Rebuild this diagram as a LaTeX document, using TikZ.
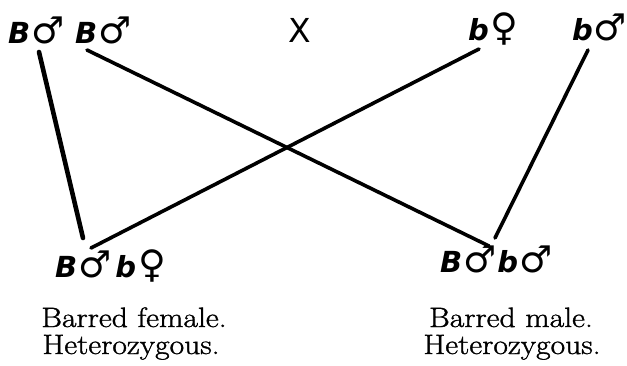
\documentclass[tikz,border=0pt]{standalone}
\usepackage{fontspec}
\newfontfamily\symfont{DejaVu Sans}
\newfontfamily\letfont{DejaVu Sans}
\newfontfamily\capfont[FakeStretch=1.13,FakeBold=1.2]{Latin Modern Roman}
\begin{document}
\begin{tikzpicture}[x={(1pt,0)},y={(0,-1pt)},
  geno/.style={inner sep=0pt,anchor=base west,font=\fontsize{29}{29}\selectfont},
  captext/.style={inner sep=0pt,anchor=base,font=\capfont\fontsize{28}{28}\selectfont},
  link/.style={line width=3.6pt,line cap=round}]
\useasboundingbox (0,0) rectangle (627,365);
\newcommand{\gB}{{\letfont\bfseries\itshape B}}
\newcommand{\gb}{{\letfont\bfseries\itshape b}}
\newcommand{\ma}{{\symfont\fontsize{37}{37}\selectfont ♂}}
\newcommand{\fe}{{\symfont\fontsize{38}{38}\selectfont ♀}}
\node[geno] (p1) at (8,43) {\gB\kern1pt\ma};
\node[geno] (p2) at (75,43) {\gB\kern1pt\ma};
\node[inner sep=0pt,anchor=base,font=\fontsize{33}{33}\selectfont\symfont] (x) at (300,42) {X};
\node[geno] (p3) at (468,40) {\gb\kern2pt\fe};
\node[geno] (p4) at (572,40) {\gb\kern1pt\ma};
\node[geno] (c1) at (55,277) {\gB\kern1pt\ma\kern4pt\gb\kern2pt\fe};
\node[geno] (c2) at (440,272) {\gB\kern1pt\ma\kern1pt\gb\kern1pt\ma};
\node[captext] (t1) at (134,327) {Barred female.};
\node[captext] (t1b) at (131,354) {Heterozygous.};
\node[captext] (t2) at (511,327) {Barred male.};
\node[captext] (t2b) at (512,354) {Heterozygous.};
\coordinate (a1) at (39,52);
\coordinate (a2) at (83,238);
\coordinate (b1) at (87,50);
\coordinate (b2) at (489,246);
\coordinate (d1) at (479,49);
\coordinate (d2) at (91,248);
\coordinate (e1) at (588,50);
\coordinate (e2) at (495,238);
\draw[link,line width=4.6pt] (a1) -- (a2);
\draw[link] (b1) -- (b2);
\draw[link] (d1) -- (d2);
\draw[link] (e1) -- (e2);
\end{tikzpicture}
\end{document}
